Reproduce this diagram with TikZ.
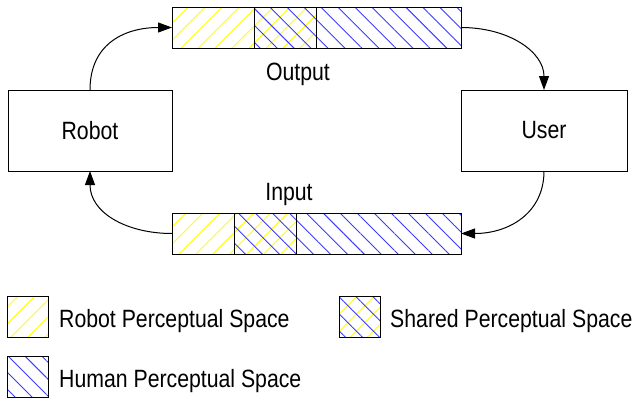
\documentclass[tikz,border=0pt]{standalone}
\usepackage{fontspec}
\newfontfamily\lblfont{Liberation Sans}[FakeStretch=0.85]
\usetikzlibrary{patterns.meta,arrows.meta}

\definecolor{ryellow}{RGB}{255,255,0}
\definecolor{hblue}{RGB}{60,60,255}

\tikzset{
  lbl/.style={font=\lblfont\fontsize{25}{30}\selectfont, inner sep=0pt},
  block/.style={draw, line width=1pt, inner sep=0pt, outer sep=0pt, anchor=north west},
  ylines/.style={pattern={Lines[angle=45,distance=12pt,line width=0.9pt]}, pattern color=ryellow},
  blines/.style={pattern={Lines[angle=-45,distance=12pt,line width=0.9pt]}, pattern color=hblue},
  robotspace/.style={block, ylines},
  humanspace/.style={block, blines},
  sharedspace/.style={block, preaction={ylines}, blines},
  flow/.style={line width=1pt, -{Triangle[length=14pt,width=10pt]}},
  actor/.style={lbl, draw, line width=1pt, outer sep=0pt, anchor=north west,
    minimum width=164pt, minimum height=81pt}
}

\begin{document}
\begin{tikzpicture}[x=1pt,y=-1pt]
\useasboundingbox (0,0) rectangle (636,399);

% actors
\node[actor] (robot) at (8,90) {Robot};
\node[actor, minimum width=166pt] (user) at (461,90) {User};

% output channel
\node[robotspace, minimum width=82pt, minimum height=41pt] (o1) at (172,7) {};
\node[sharedspace, minimum width=62pt, minimum height=41pt] (o2) at (254,7) {};
\node[humanspace, minimum width=145pt, minimum height=41pt] (o3) at (316,7) {};
\node[lbl, anchor=base] (outlbl) at (298,80) {Output};

% input channel
\node[robotspace, minimum width=62pt, minimum height=41pt] (i1) at (172,213) {};
\node[sharedspace, minimum width=62pt, minimum height=41pt] (i2) at (234,213) {};
\node[humanspace, minimum width=165pt, minimum height=41pt] (i3) at (296,213) {};
\node[lbl, anchor=base] (inlbl) at (289,200) {Input};

% loop connectors
\draw[flow] (robot.north) .. controls +(0,-48) and +(-45,0) .. (o1.west);
\draw[flow] (o3.east) .. controls +(48,0) and +(0,-38) .. (user.north);
\draw[flow] (user.south) .. controls +(0,42) and +(48,0) .. (i3.east);
\draw[flow] (i1.west) .. controls +(-45,0) and +(0,42) .. (robot.south);

% legend
\node[robotspace, minimum width=41pt, minimum height=41pt] (keyr) at (7,296) {};
\node[lbl, anchor=base west] (keyrt) at (59,327) {Robot Perceptual Space};
\node[sharedspace, minimum width=41pt, minimum height=41pt] (keys) at (339,296) {};
\node[lbl, anchor=base west] (keyst) at (390,327) {Shared Perceptual Space};
\node[humanspace, minimum width=41pt, minimum height=41pt] (keyh) at (7,356) {};
\node[lbl, anchor=base west] (keyht) at (59,387) {Human Perceptual Space};
\end{tikzpicture}
\end{document}
